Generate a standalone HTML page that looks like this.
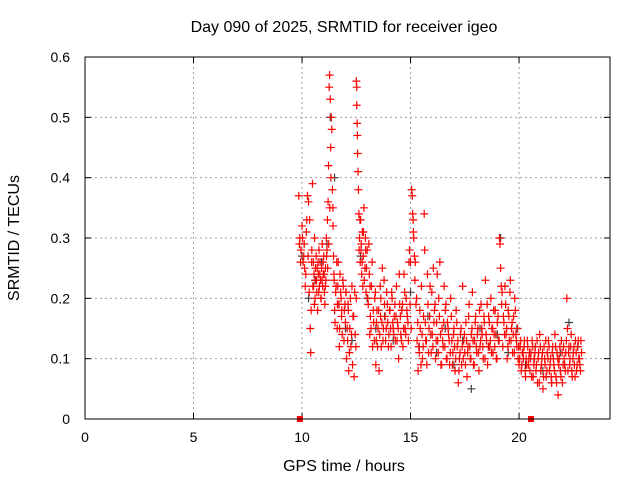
<!DOCTYPE html>
<html><head><meta charset="utf-8"><style>
body{margin:0;background:#fff}
svg{display:block;font-family:"Liberation Sans",Arial,sans-serif}
</style></head><body>
<svg id="chart" width="640" height="480" viewBox="0 0 640 480">
<rect x="0" y="0" width="640" height="480" fill="#fff"/>
<text x="344" y="32" font-size="16" text-anchor="middle" fill="#000">Day 090 of 2025, SRMTID for receiver igeo</text>
<g id="grid"></g>
<g id="ticks"></g>
<g id="black"></g>
<g id="red"></g>
<rect x="85" y="57" width="525" height="362" fill="none" stroke="#000" stroke-width="1"/>
<text x="344" y="471" font-size="16" text-anchor="middle">GPS time / hours</text>
<text transform="translate(19,238) rotate(-90)" font-size="16" text-anchor="middle">SRMTID / TECUs</text>
</svg>
<script>
const xTicks=[0,5,10,15,20];
const yTicks=[0,0.1,0.2,0.3,0.4,0.5,0.6];
const yTickLabels=["0","0.1","0.2","0.3","0.4","0.5","0.6"];
const redT=[9.85,9.9,9.95,10.0,10.05,10.1,10.12,10.15,10.2,10.25,10.3,10.35,10.38,10.4,10.42,10.45,10.48,10.5,10.52,10.55,
10.58,10.6,10.63,10.65,10.68,10.7,10.72,10.75,10.78,10.8,10.83,10.85,10.88,10.9,10.93,10.95,10.98,11.0,11.03,11.05,
11.08,11.1,11.12,11.15,11.17,11.2,11.22,11.25,11.27,11.3,11.32,11.35,11.37,11.4,11.42,11.45,11.48,11.5,11.55,11.6,
11.62,11.65,11.7,11.72,11.75,11.8,11.82,11.85,11.9,11.95,12.0,12.02,12.05,12.1,12.12,12.15,12.2,12.25,12.3,12.35,
12.4,12.45,12.5,12.5,12.52,12.52,12.54,12.55,12.56,12.58,12.6,12.62,12.65,12.68,12.7,12.72,12.75,12.78,12.8,12.82,
12.85,12.9,12.92,12.95,13.0,13.05,13.1,13.12,13.15,13.2,13.25,13.3,13.35,13.4,13.42,13.45,13.5,13.55,13.6,13.62,
13.65,13.7,13.75,13.8,13.85,13.9,13.95,14.0,14.05,14.1,14.15,14.2,14.25,14.3,14.35,14.4,14.45,14.5,14.55,14.6,
14.65,14.7,14.75,14.8,14.85,14.9,14.95,15.0,15.05,15.08,15.1,15.12,15.15,15.18,15.2,15.25,15.3,15.35,15.4,15.45,
15.5,15.55,15.6,15.65,15.7,15.75,15.8,15.85,15.9,15.95,16.0,16.05,16.1,16.15,16.2,16.25,16.3,16.35,16.4,16.45,
16.5,16.55,16.6,16.65,16.7,16.75,16.8,16.85,16.9,16.95,17.0,17.05,17.1,17.15,17.2,17.25,17.3,17.35,17.4,17.45,
17.5,17.55,17.6,17.65,17.7,17.75,17.8,17.85,17.9,17.95,18.0,18.05,18.1,18.15,18.2,18.25,18.3,18.35,18.4,18.45,
18.5,18.55,18.6,18.65,18.7,18.75,18.8,18.85,18.9,18.95,19.0,19.05,19.1,19.12,19.15,19.18,19.2,19.25,19.3,19.35,
19.4,19.45,19.5,19.55,19.6,19.65,19.7,19.75,19.8,19.85,19.9,19.95,20.0,20.05,20.1,20.15,20.2,20.25,20.3,20.35,
20.4,20.45,20.5,20.55,20.6,20.65,20.7,20.75,20.8,20.85,20.9,20.95,21.0,21.05,21.1,21.15,21.2,21.25,21.3,21.35,
21.4,21.45,21.5,21.55,21.6,21.65,21.7,21.75,21.8,21.85,21.9,21.95,22.0,22.05,22.1,22.15,22.2,22.25,22.3,22.35,
22.4,22.45,22.5,22.55,22.6,22.65,22.7,22.75,22.8,22.85];
const redV=[0.37,0.30,0.28,0.32,0.26,0.29,0.25,0.22,0.31,0.37,0.36,0.33,0.15,0.11,0.18,0.28,0.39,0.22,0.26,0.24,
0.30,0.20,0.23,0.27,0.21,0.25,0.18,0.24,0.28,0.22,0.26,0.23,0.20,0.25,0.29,0.22,0.24,0.27,0.21,0.19,
0.25,0.23,0.30,0.28,0.33,0.36,0.42,0.55,0.57,0.53,0.45,0.50,0.48,0.38,0.35,0.27,0.23,0.18,0.21,0.26,
0.15,0.22,0.19,0.12,0.24,0.20,0.17,0.14,0.22,0.18,0.16,0.21,0.10,0.13,0.19,0.08,0.15,0.12,0.22,0.17,
0.07,0.14,0.20,0.56,0.55,0.52,0.49,0.47,0.44,0.41,0.38,0.34,0.30,0.26,0.33,0.28,0.24,0.31,0.22,0.27,
0.35,0.25,0.30,0.21,0.28,0.19,0.24,0.14,0.17,0.22,0.12,0.16,0.20,0.09,0.13,0.18,0.15,0.08,0.22,0.17,
0.12,0.25,0.15,0.19,0.13,0.21,0.16,0.14,0.18,0.12,0.20,0.15,0.17,0.13,0.22,0.16,0.10,0.19,0.14,0.18,
0.12,0.24,0.15,0.20,0.17,0.13,0.28,0.26,0.38,0.37,0.34,0.33,0.30,0.27,0.23,0.19,0.13,0.08,0.11,0.15,
0.22,0.10,0.17,0.28,0.13,0.09,0.19,0.15,0.22,0.11,0.14,0.25,0.18,0.10,0.16,0.13,0.20,0.26,0.09,0.15,
0.12,0.22,0.18,0.10,0.16,0.14,0.09,0.20,0.13,0.11,0.15,0.08,0.18,0.12,0.06,0.10,0.14,0.09,0.22,0.13,
0.11,0.16,0.07,0.12,0.19,0.10,0.14,0.21,0.09,0.13,0.17,0.11,0.15,0.08,0.12,0.19,0.14,0.10,0.16,0.23,
0.13,0.09,0.17,0.12,0.20,0.15,0.11,0.14,0.18,0.10,0.16,0.13,0.30,0.29,0.25,0.22,0.19,0.12,0.16,0.22,
0.14,0.10,0.18,0.13,0.23,0.15,0.11,0.17,0.20,0.14,0.12,0.10,0.09,0.12,0.08,0.11,0.10,0.13,0.07,0.09,
0.12,0.10,0.08,0.11,0.13,0.07,0.10,0.12,0.09,0.06,0.11,0.14,0.08,0.10,0.05,0.12,0.09,0.07,0.11,0.13,
0.08,0.10,0.06,0.12,0.09,0.14,0.07,0.11,0.04,0.10,0.08,0.13,0.06,0.12,0.09,0.11,0.20,0.08,0.12,0.10,
0.14,0.07,0.11,0.09,0.13,0.08,0.12,0.10,0.09,0.13];
const redT2=[9.88,9.93,10.02,10.08,10.17,10.22,10.28,10.33,10.44,10.53,10.57,10.62,10.67,10.74,10.77,10.82,10.87,10.92,10.97,11.02,
11.07,11.13,11.18,11.23,11.28,11.33,11.43,11.47,11.52,11.57,11.63,11.67,11.73,11.78,11.83,11.88,11.93,11.98,12.03,12.08,
12.13,12.18,12.23,12.28,12.33,12.38,12.43,12.48,12.63,12.67,12.73,12.77,12.83,12.87,12.93,12.97,13.03,13.08,13.13,13.18,
13.23,13.28,13.33,13.38,13.43,13.48,13.53,13.58,13.63,13.68,13.73,13.78,13.83,13.88,13.93,13.98,14.03,14.08,14.13,14.18,
14.23,14.28,14.33,14.38,14.43,14.48,14.53,14.58,14.63,14.68,14.73,14.78,14.83,14.88,14.93,14.98,15.03,15.13,15.22,15.28,
15.33,15.38,15.43,15.48,15.53,15.58,15.63,15.68,15.73,15.78,15.83,15.88,15.93,15.98,16.03,16.08,16.13,16.18,16.23,16.28,
16.33,16.38,16.43,16.48,16.53,16.58,16.63,16.68,16.73,16.78,16.83,16.88,16.93,16.98,17.03,17.08,17.13,17.18,17.23,17.28,
17.33,17.38,17.43,17.48,17.53,17.58,17.63,17.68,17.73,17.78,17.83,17.88,17.93,17.98,18.03,18.08,18.13,18.18,18.23,18.28,
18.33,18.38,18.43,18.48,18.53,18.58,18.63,18.68,18.73,18.78,18.83,18.88,18.93,18.98,19.03,19.08,19.22,19.28,19.33,19.38,
19.43,19.48,19.53,19.58,19.63,19.68,19.73,19.78,19.83,19.88,19.93,19.98,20.03,20.08,20.13,20.18,20.23,20.28,20.33,20.38,
20.43,20.48,20.53,20.58,20.63,20.68,20.73,20.78,20.83,20.88,20.93,20.98,21.03,21.08,21.13,21.18,21.23,21.28,21.33,21.38,
21.43,21.48,21.53,21.58,21.63,21.68,21.73,21.78,21.83,21.88,21.93,21.98,22.03,22.08,22.13,22.18,22.23,22.28,22.33,22.38,
22.43,22.48,22.53,22.58,22.63,22.68,22.73,22.78,22.83,22.88];
const redV2=[0.29,0.26,0.30,0.27,0.24,0.33,0.27,0.21,0.26,0.22,0.19,0.25,0.23,0.26,0.21,0.24,0.20,0.23,0.26,0.24,
0.22,0.27,0.25,0.29,0.35,0.40,0.32,0.24,0.16,0.22,0.19,0.26,0.15,0.21,0.18,0.23,0.13,0.19,0.21,0.15,
0.18,0.11,0.20,0.14,0.09,0.17,0.21,0.12,0.28,0.33,0.29,0.26,0.31,0.23,0.28,0.25,0.20,0.29,0.22,0.15,
0.26,0.18,0.13,0.21,0.16,0.12,0.18,0.14,0.20,0.16,0.13,0.23,0.17,0.15,0.19,0.12,0.18,0.15,0.21,0.16,
0.14,0.19,0.17,0.13,0.15,0.24,0.17,0.13,0.19,0.15,0.21,0.14,0.18,0.16,0.26,0.19,0.15,0.31,0.26,0.20,
0.16,0.12,0.18,0.09,0.14,0.12,0.34,0.16,0.13,0.24,0.11,0.17,0.14,0.21,0.12,0.16,0.19,0.13,0.24,0.11,
0.17,0.14,0.09,0.13,0.16,0.12,0.19,0.10,0.15,0.13,0.11,0.17,0.09,0.14,0.12,0.10,0.16,0.13,0.08,0.11,
0.15,0.12,0.10,0.14,0.09,0.13,0.11,0.17,0.12,0.10,0.15,0.13,0.09,0.16,0.12,0.14,0.11,0.18,0.13,0.15,
0.12,0.17,0.10,0.14,0.19,0.12,0.16,0.13,0.11,0.15,0.18,0.12,0.14,0.10,0.17,0.13,0.21,0.17,0.14,0.19,
0.15,0.12,0.17,0.21,0.13,0.16,0.14,0.11,0.18,0.13,0.15,0.12,0.10,0.13,0.09,0.11,0.12,0.08,0.10,0.13,
0.09,0.11,0.10,0.07,0.12,0.09,0.11,0.08,0.13,0.10,0.06,0.12,0.09,0.11,0.07,0.10,0.13,0.08,0.10,0.12,
0.09,0.07,0.11,0.10,0.08,0.12,0.06,0.10,0.09,0.12,0.07,0.11,0.09,0.10,0.08,0.13,0.15,0.11,0.09,0.12,
0.08,0.10,0.12,0.07,0.11,0.09,0.13,0.10,0.08,0.11];
const blackT=[10.0,10.3,10.6,10.9,11.15,11.3,11.5,11.7,12.0,12.3,12.7,13.0,13.4,13.8,14.2,14.6,15.0,15.4,15.8,16.2,
16.6,17.0,17.4,17.8,18.2,18.6,19.0,19.15,19.5,19.9,20.3,20.7,21.1,21.5,21.9,22.3,22.7];
const blackV=[0.27,0.20,0.23,0.26,0.29,0.50,0.40,0.19,0.15,0.13,0.27,0.20,0.15,0.17,0.13,0.18,0.21,0.12,0.17,0.11,
0.15,0.09,0.13,0.05,0.15,0.12,0.14,0.30,0.11,0.15,0.09,0.10,0.08,0.06,0.11,0.16,0.12];
const squareT=[9.9,20.55];
const squareV=[0,0];

const X0=85,X1=610,XMAX=24.19,Y0=419,Y1=57,YMAX=0.6;
const sx=t=>X0+t/XMAX*(X1-X0);
const sy=v=>Y0-v/YMAX*(Y0-Y1);
const NS="http://www.w3.org/2000/svg";
function mk(tag,attrs,parent){const e=document.createElementNS(NS,tag);for(const k in attrs)e.setAttribute(k,attrs[k]);parent.appendChild(e);return e;}
const grid=document.getElementById('grid'),ticks=document.getElementById('ticks');
xTicks.forEach(t=>{const x=sx(t);
 if(t>0){const g=mk('line',{x1:x,x2:x,y1:Y1,y2:Y0,stroke:'#a0a0a0','stroke-dasharray':'2,3'},grid);
 
 }
 mk('line',{x1:x,x2:x,y1:Y0,y2:Y0-6,stroke:'#000'},ticks);
 mk('line',{x1:x,x2:x,y1:Y1,y2:Y1+6,stroke:'#000'},ticks);
 const l=mk('text',{x:x,y:Y0+23,'font-size':14,'text-anchor':'middle'},ticks);l.textContent=t;
 
 
});
yTicks.forEach((v,i)=>{const y=sy(v);
 if(v>0){const g=mk('line',{x1:X0,x2:X1,y1:y,y2:y,stroke:'#a0a0a0','stroke-dasharray':'2,3'},grid);
 
 }
 mk('line',{x1:X0,x2:X0+6,y1:y,y2:y,stroke:'#000'},ticks);
 mk('line',{x1:X1,x2:X1-6,y1:y,y2:y,stroke:'#000'},ticks);
 const l=mk('text',{x:X0-15,y:y+5,'font-size':14,'text-anchor':'end'},ticks);l.textContent=yTickLabels[i];
 
 
});
function plus(g,t,v,col){const x=sx(t),y=sy(v);
 return mk('path',{d:`M${x-4},${y}H${x+4}M${x},${y-4}V${y+4}`,stroke:col,'stroke-width':1.2,fill:'none'},g);}
const bg=document.getElementById('black');
blackT.forEach((t,i)=>{const p=plus(bg,t,blackV[i],'#404040');
 
 });
const rg=document.getElementById('red');
redT.forEach((t,i)=>{const p=plus(rg,t,redV[i],'#ff0000');
 
 });
redT2.forEach((t,i)=>{const p=plus(rg,t,redV2[i],'#ff0000');
 
 });
squareT.forEach((t,i)=>{const r=mk('rect',{x:sx(t)-3,y:sy(squareV[i])-3,width:6,height:6,fill:'#ff0000'},rg);
 
 });
</script>
</body></html>
